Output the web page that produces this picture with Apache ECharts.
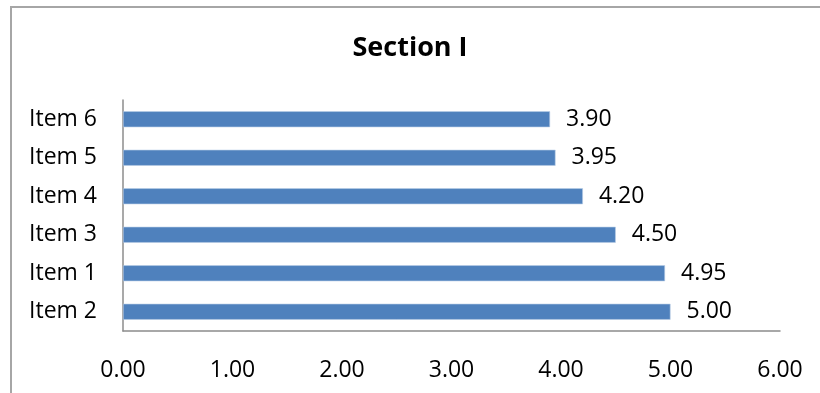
<!DOCTYPE html>
<html>
<head>
<meta charset="utf-8">
<script src="https://cdn.jsdelivr.net/npm/echarts@6/dist/echarts.min.js"></script>
<style>
  html, body { margin: 0; padding: 0; background: #fff; }
  #chart { width: 820px; height: 393px; }
</style>
</head>
<body>
<div id="chart"></div>
<script>
// Section I scores per item, listed bottom-to-top
const categories = ['Item 2', 'Item 1', 'Item 3', 'Item 4', 'Item 5', 'Item 6'];
const scores = [5.00, 4.95, 4.50, 4.20, 3.95, 3.90];
const xTicks = { min: 0, max: 6, interval: 1 };
const titleText = 'Section I';

const FONT = '"Open Sans", "Liberation Sans", sans-serif';

const chart = echarts.init(document.getElementById('chart'), null, { renderer: 'canvas' });
chart.setOption({
  backgroundColor: '#ffffff',
  animation: false,
  title: {
    text: titleText,
    left: 'center',
    top: 35,
    padding: 0,
    textStyle: { fontFamily: FONT, fontSize: 27, fontWeight: 'bold', color: '#000' }
  },
  graphic: [{
    type: 'rect',
    shape: { x: 11, y: 7, width: 830, height: 420 },
    style: { fill: 'none', stroke: '#a6a6a6', lineWidth: 2 },
    silent: true
  }],
  grid: { left: 123, right: 40, top: 100, bottom: 62 },
  xAxis: {
    type: 'value',
    min: xTicks.min,
    max: xTicks.max,
    interval: xTicks.interval,
    axisLine: { show: true, lineStyle: { color: '#8c8c8c', width: 1.5 } },
    axisTick: { show: false },
    splitLine: { show: false },
    axisLabel: {
      margin: 28,
      fontFamily: FONT,
      fontSize: 23,
      color: '#000',
      formatter: v => v.toFixed(2)
    }
  },
  yAxis: {
    type: 'category',
    data: categories,
    axisLine: { show: true, lineStyle: { color: '#8c8c8c', width: 1.5 } },
    axisTick: { show: false },
    axisLabel: { margin: 26, fontFamily: FONT, fontSize: 23, color: '#000' }
  },
  series: [{
    type: 'bar',
    data: scores,
    barWidth: 16,
    itemStyle: { color: '#4f81bd', borderColor: '#b9cde5', borderWidth: 0.6 },
    label: {
      show: true,
      position: 'right',
      distance: 16,
      fontFamily: FONT,
      fontSize: 23,
      color: '#000',
      formatter: p => p.value.toFixed(2)
    }
  }]
});
</script>
</body>
</html>
